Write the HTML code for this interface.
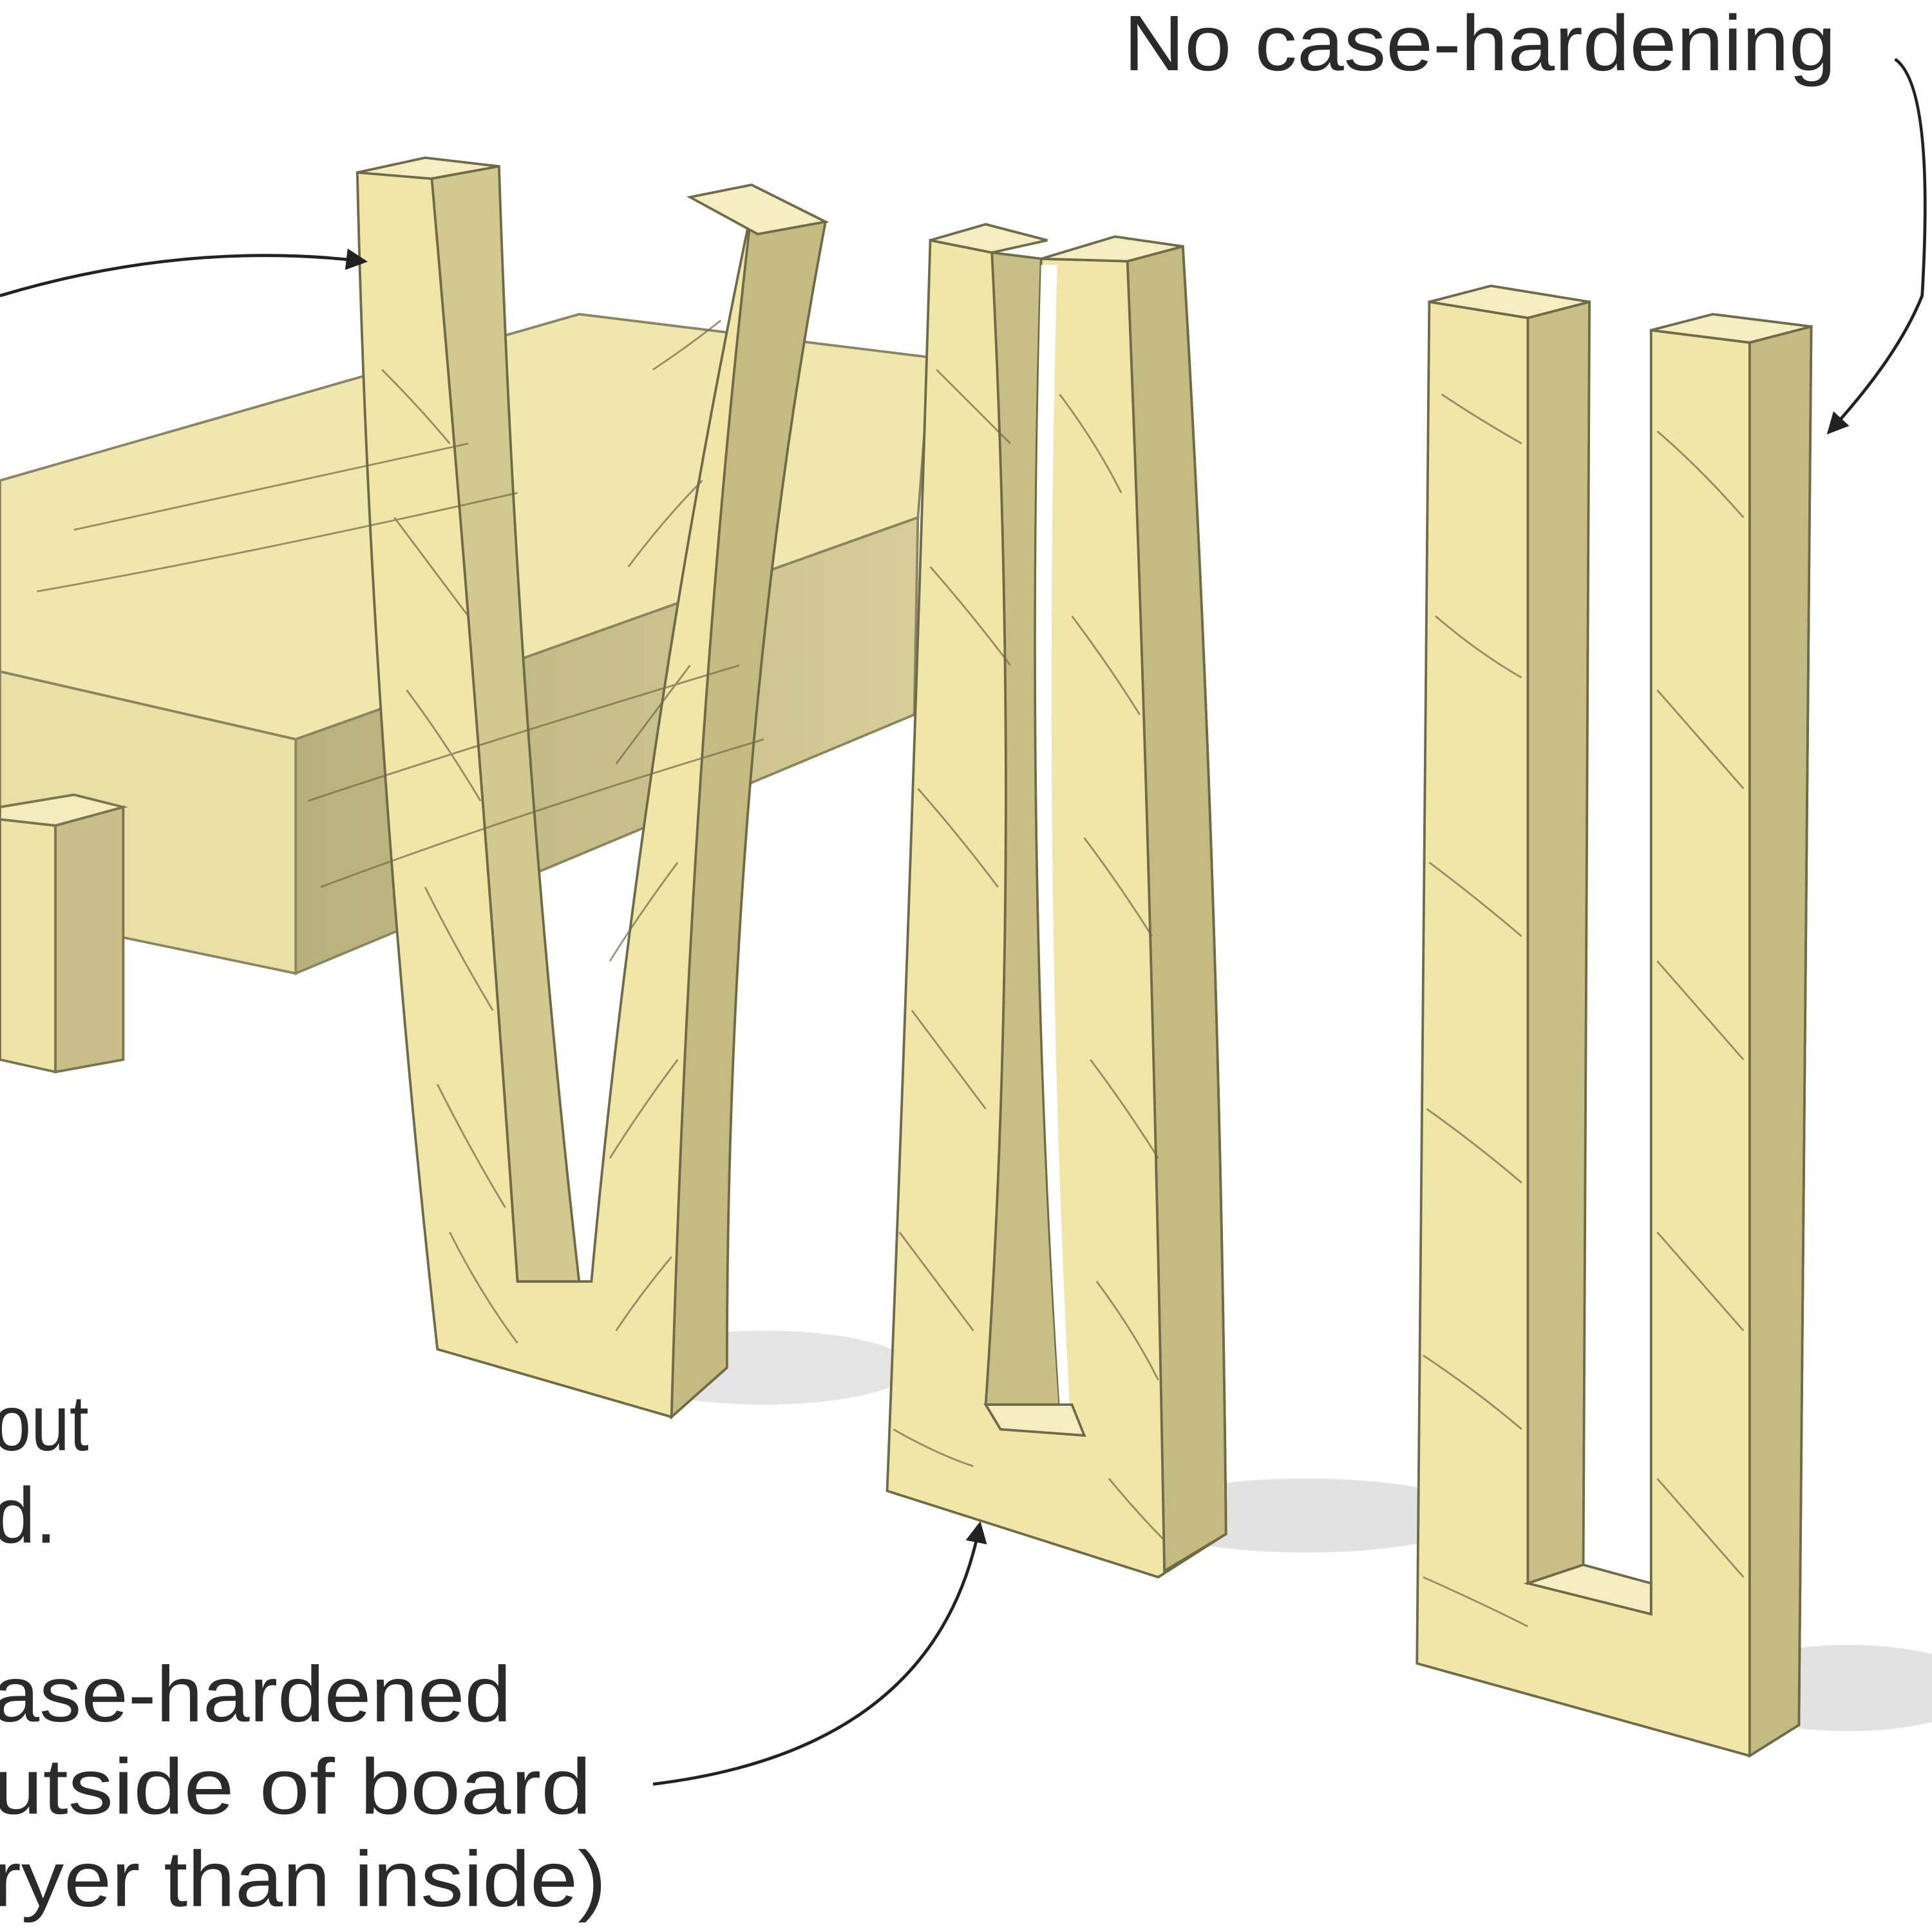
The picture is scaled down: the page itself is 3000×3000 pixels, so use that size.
<!DOCTYPE html>
<html><head><meta charset="utf-8"><style>
html,body{margin:0;padding:0;background:#fff;}
svg{display:block;}
text{font-family:"Liberation Sans","DejaVu Sans",sans-serif;fill:#2a2a2a;}
</style></head><body>
<svg width="3000" height="3000" viewBox="0 0 1568 1568" xmlns="http://www.w3.org/2000/svg">
<defs>
<marker id="ah" viewBox="0 0 10 10" refX="8" refY="5" markerWidth="7" markerHeight="7" orient="auto"><path d="M0,0 L10,5 L0,10 z" fill="#222"/></marker>
<linearGradient id="side" x1="0" x2="1"><stop offset="0" stop-color="#b8b07c"/><stop offset="1" stop-color="#d6cd98"/></linearGradient>
</defs>
<rect width="1568" height="1568" fill="#fff"/>
<ellipse cx="620" cy="1110" rx="120" ry="30" fill="#e4e4e4"/>
<ellipse cx="1060" cy="1230" rx="140" ry="30" fill="#e2e2e2"/>
<ellipse cx="1500" cy="1370" rx="110" ry="35" fill="#e2e2e2"/>
<!-- board -->
<polygon points="0,390 470,255 755,290 745,420 240,600 0,545" fill="#efe7ad" stroke="#8a8560" stroke-width="2"/>
<polygon points="240,600 745,420 742,580 240,790" fill="url(#side)" stroke="#8a8560" stroke-width="2"/>
<polygon points="0,545 240,600 240,790 0,740" fill="#e9e0a6" stroke="#8a8560" stroke-width="2"/>
<!-- small block -->
<polygon points="0,665 45,670 45,870 0,860" fill="#ede4a8" stroke="#7a7550" stroke-width="2"/>
<polygon points="45,670 100,655 100,860 45,870" fill="#c8bf88" stroke="#7a7550" stroke-width="2"/>
<polygon points="0,655 60,645 100,655 45,670 0,665" fill="#f3ecbb" stroke="#7a7550" stroke-width="2"/>
<!-- fork 1 -->
<path d="M290,140 Q300,600 355,1095 L545,1150 L560,1110 Q570,600 670,180 L610,170 Q520,600 480,1040 L420,1040 Q390,600 350,135 Z" fill="#efe6a8" stroke="#6f6a48" stroke-width="2"/>
<path d="M350,140 L405,135 Q420,600 470,1040 L420,1040 Q390,600 350,140 Z" fill="#d2c990" stroke="#6f6a48" stroke-width="2"/>
<path d="M610,170 L670,180 Q590,600 590,1110 L545,1150 Q560,600 610,170 Z" fill="#c4bb83" stroke="#6f6a48" stroke-width="2"/>
<polygon points="290,140 345,128 405,135 350,145" fill="#f4edc0" stroke="#6f6a48" stroke-width="2"/>
<polygon points="560,160 610,150 670,180 615,190" fill="#f4edc0" stroke="#6f6a48" stroke-width="2"/>
<!-- fork 2 -->
<path d="M755,195 Q740,700 720,1210 L940,1280 L995,1245 Q990,700 960,200 L915,212 L845,210 L805,205 Z" fill="#efe6a8" stroke="#6f6a48" stroke-width="2"/>
<path d="M805,205 L845,210 Q830,700 860,1140 L800,1140 Q830,700 805,205 Z" fill="#c8bf86" stroke="#6f6a48" stroke-width="2"/>
<path d="M845,215 L858,215 Q845,700 868,1140 L860,1140 Q832,700 845,215 Z" fill="#ffffff" stroke="none"/>
<path d="M800,1140 L870,1140 L880,1165 L812,1160 Z" fill="#f4edc0" stroke="#6f6a48" stroke-width="2"/>
<path d="M915,212 L960,200 Q990,700 995,1245 L945,1275 Q935,700 915,212 Z" fill="#c4bb83" stroke="#6f6a48" stroke-width="2"/>
<polygon points="755,195 800,182 850,195 805,205" fill="#f4edc0" stroke="#6f6a48" stroke-width="2"/>
<polygon points="845,210 905,192 960,200 915,212" fill="#f4edc0" stroke="#6f6a48" stroke-width="2"/>
<!-- fork 3 -->
<path d="M1160,245 L1240,258 L1240,1285 L1340,1310 L1340,268 L1420,278 L1470,265 L1460,1400 L1420,1425 L1150,1350 Z" fill="#efe6a8" stroke="#6f6a48" stroke-width="2"/>
<path d="M1240,258 L1290,245 L1285,1270 L1240,1285 Z" fill="#c8bf86" stroke="#6f6a48" stroke-width="2"/>
<path d="M1240,1285 L1285,1270 L1340,1285 L1340,1310 Z" fill="#f4edc0" stroke="#6f6a48" stroke-width="2"/>
<path d="M1420,278 L1470,265 L1460,1400 L1420,1425 Z" fill="#c4bb83" stroke="#6f6a48" stroke-width="2"/>
<polygon points="1160,245 1210,232 1290,245 1240,258" fill="#f4edc0" stroke="#6f6a48" stroke-width="2"/>
<polygon points="1340,268 1390,255 1470,265 1420,278" fill="#f4edc0" stroke="#6f6a48" stroke-width="2"/>
<!-- grain -->
<g stroke="#6f6a48" stroke-width="1.5" fill="none" opacity="0.7">
<path d="M310,300 Q340,330 365,360 M320,420 Q350,460 380,500 M330,560 Q360,600 390,650 M345,720 Q370,770 400,820 M355,880 Q380,930 410,980 M365,1000 Q390,1050 420,1090"/>
<path d="M530,300 Q560,280 585,260 M510,460 Q540,420 570,390 M500,620 Q530,580 560,540 M495,780 Q520,740 550,700 M495,940 Q520,900 550,860 M500,1080 Q520,1050 545,1020"/>
<path d="M760,300 Q790,330 820,360 M755,460 Q790,500 820,540 M745,640 Q780,680 810,720 M740,820 Q770,860 800,900 M730,1000 Q760,1040 790,1080 M725,1160 Q760,1180 790,1190"/>
<path d="M860,320 Q890,360 910,400 M870,500 Q900,540 925,580 M880,680 Q910,720 935,760 M885,860 Q915,900 940,940 M890,1040 Q920,1080 940,1120 M900,1200 Q925,1230 945,1250"/>
<path d="M1170,320 Q1200,340 1235,360 M1165,500 Q1200,530 1235,550 M1160,700 Q1200,730 1235,760 M1158,900 Q1200,930 1235,960 M1155,1100 Q1200,1130 1235,1160 M1155,1280 Q1200,1300 1240,1320"/>
<path d="M1345,350 Q1380,380 1415,420 M1345,560 Q1380,600 1415,640 M1345,780 Q1380,820 1415,860 M1345,1000 Q1380,1040 1415,1080 M1345,1200 Q1380,1240 1415,1280"/>
<path d="M60,430 Q200,400 380,360 M30,480 Q200,450 420,400 M250,650 Q400,600 600,540 M260,720 Q420,660 620,600"/>
</g>
<!-- arrows -->
<path d="M0,240 Q150,195 295,212" stroke="#222" stroke-width="2.5" fill="none" marker-end="url(#ah)"/>
<path d="M1538,48 Q1570,70 1560,240 Q1540,290 1485,350" stroke="#222" stroke-width="2.5" fill="none" marker-end="url(#ah)"/>
<path d="M530,1448 Q760,1420 795,1238" stroke="#222" stroke-width="2.5" fill="none" marker-end="url(#ah)"/>
<!-- text -->
<g font-size="64">
<text x="912" y="57" textLength="578" lengthAdjust="spacingAndGlyphs">No case-hardening</text>
<text x="-6" y="1177" textLength="78" lengthAdjust="spacingAndGlyphs">out</text>
<text x="-6" y="1252" textLength="52" lengthAdjust="spacingAndGlyphs">d.</text>
<text x="-6" y="1397" textLength="421" lengthAdjust="spacingAndGlyphs">ase-hardened</text>
<text x="-6" y="1472" textLength="486" lengthAdjust="spacingAndGlyphs">utside of board</text>
<text x="-6" y="1547" textLength="498" lengthAdjust="spacingAndGlyphs">ryer than inside)</text>
</g>
</svg>
</body></html>
